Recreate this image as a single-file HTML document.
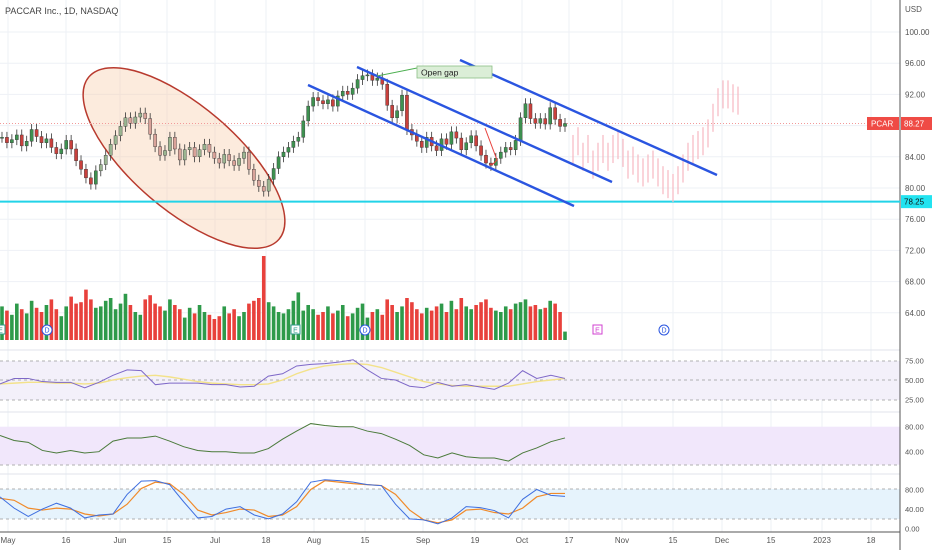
<!DOCTYPE html>
<html><head><meta charset="utf-8"><style>
body{margin:0;background:#fff;font-family:"Liberation Sans",sans-serif}
svg{display:block}
</style></head><body>
<svg id="c" width="932" height="550" xmlns="http://www.w3.org/2000/svg"></svg>
<script>
const closes=[86.5,85.8,86.2,86.8,85.4,86.0,87.5,86.6,85.8,86.3,85.2,84.4,85.0,86.1,85.0,83.5,82.4,81.3,80.5,82.2,
83.0,84.2,85.6,86.7,87.9,89.0,88.3,89.1,89.6,88.9,
86.9,85.3,84.2,84.8,86.5,85.0,83.6,84.9,85.2,84.0,84.9,85.6,84.6,83.8,83.2,84.3,83.5,82.9,83.8,84.6,82.4,81.0,80.2,79.6,81.1,
82.5,84.0,84.6,85.2,86.0,86.5,88.6,90.5,
91.6,91.2,90.8,91.3,90.5,91.8,92.4,92.0,92.8,93.9,94.4,94.5,93.8,94.1,93.3,
90.6,89.0,89.9,91.9,87.5,86.8,86.0,85.2,86.5,85.4,84.8,86.3,85.6,87.2,86.4,
84.9,85.8,86.7,85.4,84.2,83.2,82.9,83.8,84.6,85.2,84.9,86.1,
89.0,90.8,88.9,88.3,88.9,88.2,90.3,88.8,87.9,88.27];
const volumes=[2.4,2.1,1.8,2.6,2.2,1.9,2.8,2.3,2.0,2.5,2.9,2.2,1.7,2.4,3.1,2.6,2.7,3.6,2.9,2.3,
2.4,2.8,3.0,2.2,2.6,3.3,2.5,2.0,1.8,2.9,
3.2,2.6,2.4,2.1,2.9,2.5,2.2,1.6,2.3,1.9,2.5,2.0,1.8,1.5,1.7,2.4,1.9,2.2,1.7,2.0,2.6,2.8,3.0,6.0,2.7,
2.4,2.0,1.9,2.2,2.8,3.4,2.1,2.5,
2.2,1.8,2.0,2.4,1.9,2.1,2.5,1.7,1.9,2.3,2.6,1.6,2.0,2.2,1.8,
2.9,2.5,2.0,2.4,3.0,2.7,2.2,1.9,2.3,2.1,2.4,2.6,2.0,2.8,2.2,
3.0,2.4,2.2,2.5,2.7,2.9,2.3,2.1,2.0,2.4,2.2,2.6,
2.7,2.9,2.4,2.5,2.2,2.3,2.8,2.6,2.0,0.6];
const ghostMids=[85,86,84,85,83,84,85,84,85,85.5,84.5,83,83.5,82.5,82,82.5,83,82,81,80.5,80,81,82.5,84,85,85.5,86,87,89,91,92,92,91.5,91.2];
const rsi=[45,52,52,48,47,47,40,47,56,63,62,44,46,46,46,44,44,41,42,55,58,68,70,71,73,76,63,52,50,42,40,47,42,44,41,38,46,62,52,56,52];
const rsiMa=[45,46,47,47,46,46,45,46,50,53,55,56,54,51,48,46,45,44,44,45,50,58,64,68,70,71,70,66,60,54,48,45,43,42,42,42,42,45,48,50,52];
const mid=[66,58,55,42,38,42,38,40,57,62,62,65,57,48,42,40,40,38,38,45,60,73,85,82,80,80,73,69,60,50,35,30,38,32,30,30,25,38,46,56,62];
const stochK=[65,42,25,40,52,42,22,28,30,70,97,98,90,55,22,25,40,45,28,20,30,55,95,100,98,95,90,88,50,20,18,10,22,45,43,37,22,60,80,68,66];
const stochD=[62,58,42,38,42,40,30,26,30,50,82,95,92,70,38,28,33,40,38,25,28,45,80,98,95,92,90,88,70,38,18,12,18,38,40,33,30,42,65,72,72];
const dateLabels=["May","16","Jun","15","Jul","18","Aug","15","Sep","19","Oct","17","Nov","15","Dec","15","2023","18"];
const dateX=[8,66,120,167,215,266,314,365,423,475,522,569,622,673,722,771,822,871];
const priceTicks=[100,96,92,84,80,76,72,68,64];

const S=document.getElementById('c');const NS='http://www.w3.org/2000/svg';
function el(t,a,p){const e=document.createElementNS(NS,t);for(const k in a)e.setAttribute(k,a[k]);(p||S).appendChild(e);return e;}
const py=p=>32+(100-p)*7.8;
const bx=i=>2+i*(563/(closes.length-1));
const ix=i=>i*(565/(rsi.length-1));
const vy=v=>340-v*14;
const r1=v=>380-(v-50)*0.78;
const r2=v=>426.7-(v-80)*0.625;
const r3=v=>528.7-v*0.49;

// grid
const g=el('g',{});
dateX.forEach(x=>el('line',{x1:x,x2:x,y1:0,y2:532,stroke:'#eef1f6','stroke-width':1},g));
priceTicks.concat([88]).forEach(p=>el('line',{x1:0,x2:900,y1:py(p),y2:py(p),stroke:'#eef1f6'},g));
// pane backgrounds
el('rect',{x:0,y:361,width:900,height:39,fill:'#f3f0fa'});
el('rect',{x:0,y:426.7,width:900,height:38,fill:'#f1e7fb'});
el('rect',{x:0,y:489,width:900,height:30,fill:'#e6f3fc'});
[[361,'#999'],[380,'#999'],[400,'#999'],[465,'#999'],[489,'#999'],[519,'#999']].forEach(a=>el('line',{x1:0,x2:900,y1:a[0],y2:a[0],stroke:a[1],'stroke-dasharray':'3,3','stroke-width':0.8}));
[350,412,474].forEach(y=>el('line',{x1:0,x2:900,y1:y,y2:y,stroke:'#e0e3eb'}));
el('line',{x1:0,x2:900,y1:532,y2:532,stroke:'#555'});
el('line',{x1:900,x2:900,y1:0,y2:550,stroke:'#555'});

// ellipse
const ell=el('ellipse',{cx:184,cy:158,rx:125,ry:52,transform:'rotate(40.5 184 158)',fill:'rgba(248,205,170,0.4)',stroke:'#b83a2e','stroke-width':1.5});


// price line and support
el('line',{x1:0,x2:900,y1:py(88.27),y2:py(88.27),stroke:'#f29a9a','stroke-dasharray':'1,2'});
const sup=el('line',{x1:0,x2:900,y1:py(78.25),y2:py(78.25),stroke:'#22d3e8','stroke-width':2});


// volume
closes.forEach((c,i)=>{const o=i?closes[i-1]:c;const r=el('rect',{x:bx(i)-1.8,y:vy(volumes[i]),width:3.6,height:340-vy(volumes[i]),fill:c>=o?'#2e9a4a':'#e8413c'});
});

// ghost bars
ghostMids.forEach((m,i)=>{const x=573+i*5;const l=el('line',{x1:x,x2:x,y1:py(m+1.8),y2:py(m-1.8),stroke:'#f6b8c0','stroke-width':1.2});
});

// candles
closes.forEach((c,i)=>{const o=i?closes[i-1]:c;const up=c>=o;const inE=i>=20&&i<=54;
const col=inE?(up?'#9bb591':'#d9a39a'):(up?'#3e9150':'#c9413d');
const hi=Math.max(o,c)+0.7,lo=Math.min(o,c)-0.7;
el('line',{x1:bx(i),x2:bx(i),y1:py(hi),y2:py(lo),stroke:'#333','stroke-width':0.8});
const r=el('rect',{x:bx(i)-1.6,y:py(Math.max(o,c)),width:3.2,height:Math.max(1,Math.abs(py(o)-py(c))),fill:col,stroke:'#333','stroke-width':0.4});
});

// channel lines
[[308,85,574,206],[357,67,612,182],[460,60,717,175]].forEach(a=>{const l=el('line',{x1:a[0],y1:a[1],x2:a[2],y2:a[3],stroke:'#2a55e0','stroke-width':2.4});
});
el('path',{d:'M485 128 L497 160 L492 165',stroke:'#e8413c',fill:'none','stroke-width':1});
el('line',{x1:377,y1:76,x2:417,y2:68,stroke:'#4caf50','stroke-width':1});
const gb=el('rect',{x:417,y:66,width:75,height:12,fill:'#dbeed7',stroke:'#8bbf84','stroke-width':0.8});

const gt=el('text',{x:421,y:75.5,'font-size':8.5,fill:'#222'});gt.textContent='Open gap';

// indicator lines
function line(arr,fx,fy,col,w,name){const l=el('polyline',{points:arr.map((v,i)=>fx(i)+','+fy(v)).join(' '),fill:'none',stroke:col,'stroke-width':w});
}
line(rsiMa,ix,r1,'#f3e28a',1.4,'rsi-ma-line');
line(rsi,ix,r1,'#7e68c8',1,'rsi-line');
line(mid,ix,r2,'#4a7a3a',1,'oscillator-line');
line(stochD,ix,r3,'#f08a2a',1.2,'stoch-d-line');
line(stochK,ix,r3,'#3f6fe0',1,'stoch-k-line');

// event markers
[[0,'E'],[295,'E']].forEach(a=>{const r=el('rect',{x:a[0]-4,y:325,width:9,height:9,fill:'#fff',stroke:'#2e9a8a'});
const t=el('text',{x:a[0]+0.5,y:332.5,'font-size':7,'text-anchor':'middle',fill:'#2e9a8a'});t.textContent=a[1];});
{const r=el('rect',{x:593,y:325,width:9,height:9,fill:'#fff',stroke:'#d040d0'});
const t=el('text',{x:597.5,y:332.5,'font-size':7,'text-anchor':'middle',fill:'#d040d0'});t.textContent='E';}
[47,365,664].forEach(x=>{const c=el('circle',{cx:x,cy:330,r:5,fill:'#fff',stroke:'#2a55e0'});
const t=el('text',{x:x,y:332.5,'font-size':7,'text-anchor':'middle',fill:'#2a55e0'});t.textContent='D';});

// axis labels
const title=el('text',{x:5,y:14,'font-size':9,fill:'#444'});title.textContent='PACCAR Inc., 1D, NASDAQ';

el('rect',{x:901,y:0,width:31,height:550,fill:'#fff'});
const u=el('text',{x:905,y:12,'font-size':8,fill:'#555'});u.textContent='USD';
priceTicks.forEach(p=>{const t=el('text',{x:905,y:py(p)+3,'font-size':8,fill:'#555'});t.textContent=p.toFixed(2);
});
[[75,r1],[50,r1],[25,r1]].forEach(a=>{const t=el('text',{x:905,y:a[1](a[0])+3,'font-size':7.5,fill:'#555'});t.textContent=a[0].toFixed(2);});
[80,40].forEach(v=>{const t=el('text',{x:905,y:r2(v)+3,'font-size':7.5,fill:'#555'});t.textContent=v.toFixed(2);});
[80,40,0].forEach(v=>{const t=el('text',{x:905,y:r3(v)+3,'font-size':7.5,fill:'#555'});t.textContent=v.toFixed(2);});
el('rect',{x:867,y:py(88.27)-6.5,width:32,height:13,fill:'#ef4b45'});
let t=el('text',{x:871,y:py(88.27)+3,'font-size':8,fill:'#fff'});t.textContent='PCAR';
el('rect',{x:901,y:py(88.27)-6.5,width:31,height:13,fill:'#ef4b45'});
t=el('text',{x:904,y:py(88.27)+3,'font-size':8,fill:'#fff'});t.textContent='88.27';
el('rect',{x:901,y:py(78.25)-6.5,width:31,height:13,fill:'#22e3f0'});
t=el('text',{x:904,y:py(78.25)+3,'font-size':8,fill:'#111'});t.textContent='78.25';
dateLabels.forEach((d,i)=>{const tt=el('text',{x:dateX[i],y:543,'font-size':8,fill:'#555','text-anchor':'middle'});tt.textContent=d;
});
</script>
</body></html>
